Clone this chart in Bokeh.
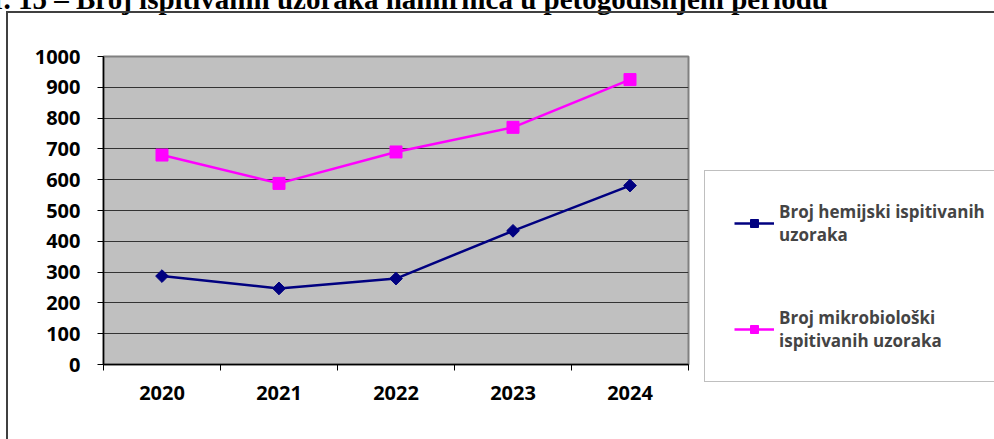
import math
from bokeh.plotting import figure
from bokeh.models import FixedTicker, Legend, LegendItem, Range1d, Title, InlineStyleSheet
from bokeh.embed import file_html
from bokeh.resources import INLINE

years = ["2020", "2021", "2022", "2023", "2024"]
hemijski = [287, 247, 279, 434, 581]
mikrobioloski = [680, 588, 690, 770, 925]
y_ticks = [0, 100, 200, 300, 400, 500, 600, 700, 800, 900, 1000]
title_text = "Grafikon br. 15 – Broj ispitivanih uzoraka namirnica u petogodišnjem periodu"
label_hem = "Broj hemijski ispitivanih\nuzoraka"
label_mik = "Broj mikrobiološki\nispitivanih uzoraka"

SHIFT = 63
FL, FR, FT, FB = 103, 688, 56 + SHIFT, 364 + SHIFT
H = 439 + SHIFT

p = figure(frame_width=FR - FL, frame_height=FB - FT, output_backend="svg", toolbar_location=None,
           title=None,
           x_range=Range1d(0, len(years)), y_range=Range1d(0, 1000),
           min_border_left=FL, min_border_right=994 - FR, min_border_top=FT, min_border_bottom=H - FB,
           background_fill_color="#C0C0C0", border_fill_color="white",
           outline_line_color="#808080", outline_line_width=2)
p.margin = (-SHIFT, 0, 0, 0)
p.stylesheets = [InlineStyleSheet(css=(
    ":host::before { content: ''; position: absolute; left: 6px; top: %dpx; right: 0; bottom: 0;"
    " border-left: 2px solid #404040; border-top: 2px solid #404040; z-index: 5;"
    " pointer-events: none; box-sizing: border-box; }" % (11 + SHIFT)))]

xs = [i + 0.5 for i in range(len(years))]

r1l = p.line(xs, hemijski, line_color="#000080", line_width=2.5)
r1m = p.scatter(xs, hemijski, marker="square", angle=math.pi / 4, size=9,
                fill_color="#000080", line_color="#000080")
r2l = p.line(xs, mikrobioloski, line_color="#FF00FF", line_width=2.5)
r2m = p.scatter(xs, mikrobioloski, marker="square", size=12, fill_color="#FF00FF", line_color="#FF00FF")

font = "Open Sans"
xa = p.xaxis[0]
xa.ticker = FixedTicker(ticks=xs, minor_ticks=list(range(len(years) + 1)))
xa.major_label_overrides = {x: y for x, y in zip(xs, years)}
xa.major_tick_out = 0
xa.major_tick_in = 0
xa.minor_tick_out = 6
xa.minor_tick_in = 0
xa.minor_tick_line_color = "#000000"
xa.axis_line_color = "#000000"
xa.axis_line_width = 1.5
xa.major_label_standoff = 15
xa.major_label_text_font = font
xa.major_label_text_font_style = "bold"
xa.major_label_text_font_size = "20px"
xa.major_label_text_color = "#000000"

ya = p.yaxis[0]
ya.ticker = FixedTicker(ticks=y_ticks)
ya.major_tick_out = 6
ya.major_tick_in = 0
ya.minor_tick_out = 0
ya.minor_tick_in = 0
ya.axis_line_color = "#000000"
ya.axis_line_width = 1.5
ya.major_label_standoff = 17
ya.major_label_text_font = font
ya.major_label_text_font_style = "bold"
ya.major_label_text_font_size = "20px"
ya.major_label_text_color = "#000000"

p.xgrid.visible = False
p.ygrid.grid_line_color = "#333333"
p.ygrid.grid_line_width = 1

legend = Legend(items=[LegendItem(label=label_hem, renderers=[r1l, r1m]),
                       LegendItem(label=label_mik, renderers=[r2l, r2m])],
                location=(16, 364 - 382),
                label_text_font=font, label_text_font_style="bold", label_text_font_size="17px",
                border_line_color="#808080", border_line_width=1.5,
                glyph_width=40, glyph_height=20, label_standoff=5, spacing=60, padding=29, margin=0,
                background_fill_color="white", background_fill_alpha=1)
p.add_layout(legend, "right")

t = Title(text=title_text, align="left", offset=-145 - FL, standoff=83,
          text_font="Liberation Serif", text_font_style="bold", text_font_size="29px",
          text_color="#000000")
p.add_layout(t, "above")

open("out.html", "w").write(file_html(p, INLINE))
